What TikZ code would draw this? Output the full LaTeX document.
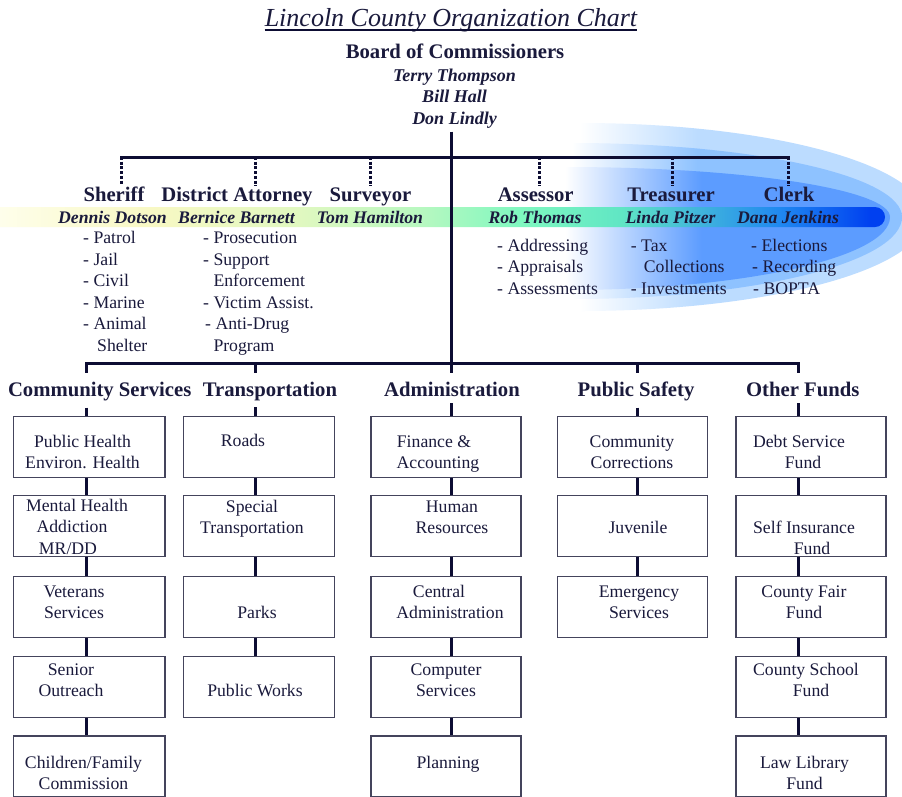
\documentclass[tikz,border=0pt]{standalone}
\usepackage{fontspec}
\setmainfont{Liberation Serif}
\usetikzlibrary{calc}
\definecolor{lncol}{HTML}{0D0D33}
\definecolor{txt}{HTML}{1A1A3C}
\definecolor{boxcol}{HTML}{44445C}
\definecolor{bA}{HTML}{FFFFF0}
\definecolor{bB}{HTML}{F8F8C4}
\definecolor{bC}{HTML}{E0F8C0}
\definecolor{bD}{HTML}{B8F8C0}
\definecolor{bE}{HTML}{80F8C0}
\definecolor{bF}{HTML}{60E6C4}
\definecolor{bG}{HTML}{40B4DC}
\definecolor{bH}{HTML}{2088F0}
\definecolor{bI}{HTML}{0040F0}
\definecolor{cO}{HTML}{BCDCFF}
\definecolor{cM}{HTML}{8EC2FF}
\definecolor{cI}{HTML}{5C9CFF}
\pgfdeclarehorizontalshading{bandsh}{100bp}{color(0bp)=(bA); color(25bp)=(bA); color(34.4bp)=(bB); color(42.7bp)=(bC); color(49.3bp)=(bD); color(54.8bp)=(bE); color(60.4bp)=(bF); color(64.8bp)=(bG); color(69.2bp)=(bH); color(74.2bp)=(bI); color(100bp)=(bI)}
\pgfdeclarehorizontalshading{cometO}{100bp}{color(0bp)=(white); color(25bp)=(white); color(42bp)=(cO); color(100bp)=(cO)}
\pgfdeclarehorizontalshading{cometM}{100bp}{color(0bp)=(white); color(25bp)=(white); color(44bp)=(cM); color(100bp)=(cM)}
\pgfdeclarehorizontalshading{cometI}{100bp}{color(0bp)=(white); color(25bp)=(white); color(46bp)=(cI); color(100bp)=(cI)}
\newcommand\ls{\rule[-4.85pt]{0pt}{21.5pt}}
\newcommand\fbody{\fontsize{17.7pt}{21.5pt}\selectfont}
\begin{document}
\begin{tikzpicture}[x=1pt,y=-1pt,
  ln/.style={draw=lncol,line width=3pt},
  dotln/.style={draw=lncol,line width=3pt,dash pattern=on 3pt off 1.7pt},
  box/.style={draw=boxcol,line width=1.3pt,fill=white,minimum width=151pt,minimum height=61pt,inner sep=0pt},
  bt/.style={font=\fbody,align=center,inner sep=0pt,text=txt},
  lt/.style={font=\fbody,align=left,inner sep=0pt,text=txt,anchor=north west},
  hd/.style={font=\bfseries\fontsize{20.7pt}{24pt}\selectfont,inner sep=0pt,text=txt,anchor=base},
  nm/.style={font=\bfseries\itshape\fontsize{17.7pt}{21pt}\selectfont,inner sep=0pt,text=txt,anchor=base},
]
\useasboundingbox[fill=white] (0,0) rectangle (902,796);

% blue comet layers
\shade[shading=cometO] (580,123) .. controls (770.5,123) and (925,165.1) .. (925,217) .. controls (925,268.9) and (770.5,311) .. (580,311) -- cycle;
\shade[shading=cometM] (572,143) .. controls (754.3,143) and (902,176.1) .. (902,217) .. controls (902,262.3) and (754.3,299) .. (572,299) -- cycle;
\shade[shading=cometI] (565,167) .. controls (744.5,167) and (890,189.4) .. (890,217) .. controls (890,257.3) and (744.5,290) .. (565,290) -- cycle;
% band
\shade[shading=bandsh, rounded corners=10pt] (-20,207) -- (885,207) -- (885,227) -- (-20,227) -- cycle;

% column x positions
\coordinate (X1) at (86,0);
\coordinate (X2) at (255.3,0);
\coordinate (X3) at (451,0);
\coordinate (X4) at (637.7,0);
\coordinate (X5) at (798.3,0);

% title and board
\node[anchor=base,font=\itshape\fontsize{26pt}{30pt}\selectfont,text=txt,inner sep=0pt] (title) at (451,26.6) {Lincoln County Organization Chart};
\draw[lncol,line width=1.6pt] ([yshift=-3.6pt]title.base west) -- ([yshift=-3.6pt]title.base east);
\node[hd] (board) at (455,58.85) {Board of Commissioners};
\node[nm,font=\bfseries\itshape\fontsize{18pt}{21pt}\selectfont] (terry) at (454.5,81) {Terry Thompson};
\node[nm,font=\bfseries\itshape\fontsize{18pt}{21pt}\selectfont] (bill) at (454.5,102) {Bill Hall};
\node[nm,font=\bfseries\itshape\fontsize{18pt}{21pt}\selectfont] (don) at (454.5,124) {Don Lindly};

% elected officials
\node[hd] (sheriff) at (114,201.85) {Sheriff};
\node[hd] (da) at (237,201.85) {District Attorney};
\node[hd] (surveyor) at (370.5,201.85) {Surveyor};
\node[hd] (assessor) at (535.7,201.85) {Assessor};
\node[hd] (treasurer) at (671,201.85) {Treasurer};
\node[hd] (clerk) at (789,201.85) {Clerk};

\node[nm] (dennis) at (112.5,223.4) {Dennis Dotson};
\node[nm] (bernice) at (236.5,223.4) {Bernice Barnett};
\node[nm] (tom) at (370,223.4) {Tom Hamilton};
\node[nm] (rob) at (535,223.4) {Rob Thomas};
\node[nm] (linda) at (670.5,223.4) {Linda Pitzer};
\node[nm] (dana) at (788,223.4) {Dana Jenkins};

\node[lt] (shlist) at (83,226.75) {\ls - Patrol\\\ls - Jail\\\ls - Civil\\\ls - Marine\\\ls - Animal\\\ls\hspace*{14pt}Shelter};
\node[lt] (dalist) at (203,226.75) {\ls - Prosecution\\\ls - Support\\\ls\hspace*{10.3pt}Enforcement\\\ls - Victim Assist.\\\ls\hspace*{2pt}- Anti-Drug\\\ls\hspace*{10.3pt}Program};
\node[lt] (aslist) at (497,234.25) {\ls - Addressing\\\ls - Appraisals\\\ls - Assessments};
\node[lt] (trlist) at (630.7,234.25) {\ls - Tax\\\ls\hspace*{13pt}Collections\\\ls - Investments};
\node[lt] (cllist) at (751,234.25) {\ls - Elections\\\ls\hspace*{1pt}- Recording\\\ls\hspace*{2pt}- BOPTA};

% departments
\node[hd] (cs) at (99.7,396.85) {Community Services};
\node[hd] (tr) at (270,396.85) {Transportation};
\node[hd] (ad) at (452,396.85) {Administration};
\node[hd] (ps) at (636,396.85) {Public Safety};
\node[hd] (of) at (802.7,396.85) {Other Funds};

% boxes
\node[box,minimum width=151.5pt] (b11) at (89.25,446.7) {};
\node[box,minimum width=151.5pt] (b12) at (89.25,525.8) {};
\node[box,minimum width=151.5pt] (b13) at (89.25,607.3) {};
\node[box,minimum width=151.5pt] (b14) at (89.25,687.2) {};
\node[box,minimum width=151.5pt] (b15) at (89.25,766.5) {};
\node[box] (b21) at (258.8,446.7) {};
\node[box] (b22) at (258.8,525.8) {};
\node[box] (b23) at (258.8,607.3) {};
\node[box] (b24) at (258.8,687.2) {};
\node[box,minimum width=150pt] (b31) at (445.85,446.7) {};
\node[box,minimum width=150pt] (b32) at (445.85,525.8) {};
\node[box,minimum width=150pt] (b33) at (445.85,607.3) {};
\node[box,minimum width=150pt] (b34) at (445.85,687.2) {};
\node[box,minimum width=150pt] (b35) at (445.85,766.5) {};
\node[box,minimum width=150pt] (b41) at (632.3,446.7) {};
\node[box,minimum width=150pt] (b42) at (632.3,525.8) {};
\node[box,minimum width=150pt] (b43) at (632.3,607.3) {};
\node[box,minimum width=150pt] (b51) at (811,446.7) {};
\node[box,minimum width=150pt] (b52) at (811,525.8) {};
\node[box,minimum width=150pt] (b53) at (811,607.3) {};
\node[box,minimum width=150pt] (b54) at (811,687.2) {};
\node[box,minimum width=150pt] (b55) at (811,766.5) {};

% box texts
\node[bt] (t11) at (82.5,452) {\ls Public Health\\\ls Environ. Health};
\node[bt] (t12) at (72,527) {\ls Mental Health\hspace*{-10pt}\\\ls Addiction\hspace*{6pt}\\\ls MR/DD\hspace*{8pt}};
\node[bt] (t13) at (74,602) {\ls Veterans\\\ls Services};
\node[bt] (t14) at (71,680) {\ls Senior\\\ls Outreach};
\node[bt] (t15) at (83.5,773) {\ls Children/Family\\\ls Commission};
\node[bt] (t21) at (243,441) {\ls Roads};
\node[bt] (t22) at (252,517) {\ls Special\\\ls Transportation};
\node[bt] (t23) at (257,612.8) {\ls Parks};
\node[bt] (t24) at (255,690.5) {\ls Public Works};
\node[bt] (t31) at (438,452) {\ls Finance \&\hspace*{8pt}\\\ls Accounting};
\node[bt] (t32) at (452,517) {\ls Human\\\ls Resources};
\node[bt] (t33) at (450,602) {\ls Central\hspace*{22pt}\\\ls Administration};
\node[bt] (t34) at (446,680) {\ls Computer\\\ls Services};
\node[bt] (t35) at (448,763) {\ls Planning};
\node[bt] (t41) at (632,452) {\ls Community\\\ls Corrections};
\node[bt] (t42) at (638,528) {\ls Juvenile};
\node[bt] (t43) at (639,602) {\ls Emergency\\\ls Services};
\node[bt] (t51) at (800,452) {\ls Debt Service\hspace*{2pt}\\\ls Fund\hspace*{-6pt}};
\node[bt] (t52) at (806,538) {\ls Self Insurance\hspace*{4pt}\\\ls Fund\hspace*{-12pt}};
\node[bt] (t53) at (804,602) {\ls County Fair\\\ls Fund};
\node[bt] (t54) at (808,680) {\ls County School\hspace*{4pt}\\\ls Fund\hspace*{-6pt}};
\node[bt] (t55) at (804.5,773) {\ls Law Library\\\ls Fund};

% top structure
\coordinate (mtop) at ($(don.south -| X3)+(0,3.5)$);
\coordinate (T1) at (121,157);
\coordinate (T2) at (255,157);
\coordinate (T3) at (370,157);
\coordinate (T4) at (539.3,157);
\coordinate (T5) at (672.7,157);
\coordinate (T6) at (788.7,157);
\coordinate (bar2) at (451,363);
\coordinate (B1) at (X1 |- bar2);
\coordinate (B5) at (X5 |- bar2);

\draw[ln] (mtop) -- (bar2);
\draw[ln,line cap=rect] (T1) -- (T6);
\draw[ln,line cap=rect] (B1) -- (B5);

\draw[dotln] (T1) -- ($(T1 |- sheriff.north)+(0,-2)$);
\draw[dotln] (T2) -- ($(T2 |- da.north)+(0,-2)$);
\draw[dotln] (T3) -- ($(T3 |- surveyor.north)+(0,-2)$);
\draw[dotln] (T4) -- ($(T4 |- assessor.north)+(0,-2)$);
\draw[dotln] (T5) -- ($(T5 |- treasurer.north)+(0,-2)$);
\draw[dotln] (T6) -- ($(T6 |- clerk.north)+(0,-2)$);

% drops to departments
\foreach \h/\x in {cs/X1,tr/X2,ad/X3,ps/X4,of/X5}{
  \draw[ln] (\x |- bar2) -- ($(\h.north -| \x)+(0,-9)$);
}
\draw[ln] ($(cs.south -| X1)+(0,6)$) -- (b11.north -| X1);
\draw[ln] ($(tr.south -| X2)+(0,6)$) -- (b21.north -| X2);
\draw[ln] ($(ad.south -| X3)+(0,6)$) -- (b31.north -| X3);
\draw[ln] ($(ps.south -| X4)+(0,6)$) -- (b41.north -| X4);
\draw[ln] ($(of.south -| X5)+(0,6)$) -- (b51.north -| X5);

% column connectors
\foreach \a/\b/\x in {b11/b12/X1,b12/b13/X1,b13/b14/X1,b14/b15/X1,
  b21/b22/X2,b22/b23/X2,b23/b24/X2,
  b31/b32/X3,b32/b33/X3,b33/b34/X3,b34/b35/X3,
  b41/b42/X4,b42/b43/X4,
  b51/b52/X5,b52/b53/X5,b53/b54/X5,b54/b55/X5}{
  \draw[ln] (\a.south -| \x) -- (\b.north -| \x);
}
\end{tikzpicture}
\end{document}
